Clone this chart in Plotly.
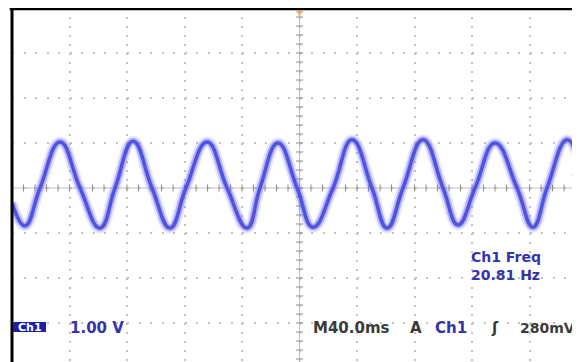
import plotly.graph_objects as go
import numpy as np

# ---- data (time in ms, voltage in V) ----
t_ms = [0.0, 9.0, 19.5, 33.4, 47.3, 61.2, 71.7, 84.2, 97.4, 109.9, 121.0,
        135.7, 149.6, 163.5, 172.5, 185.0, 198.3, 209.4, 223.3, 236.5, 250.4,
        260.9, 272.0, 285.9, 299.8, 310.3, 322.1, 336.0, 351.3, 362.4, 372.2,
        386.1, 395.1]
volts = [-0.33, -0.84, 0.0, 1.02, 0.0, -0.89, 0.0, 1.04, 0.0, -0.89, 0.0,
         1.02, 0.0, -0.89, 0.0, 1.00, 0.0, -0.87, 0.0, 1.07, 0.0,
         -0.89, 0.0, 1.07, 0.0, -0.82, 0.0, 1.00, 0.0, -0.87, 0.0,
         1.07, 0.55]

time_per_div = 40.0      # ms
volt_per_div = 1.0       # V
trigger_level = 0.28     # V
trigger_pos = 200.0      # ms
freq_lines = ["Ch1 Freq", "20.81 Hz"]

# page has an 8px body margin: figure covers page x 8..580, y 8..362
OFF = 8
W, H = 580 - OFF, 362 - OFF
L, T = 12 - OFF, 0
x_max = 395.1
y_min, y_max = -3.867, 4.0

def px(x):   # page x -> paper
    return (x - 12) / (580 - 12)

def py(y):   # page y -> paper
    return (362 - y) / (362 - 8)

fig = go.Figure()

tick_col = "#8c8c8c"
xt = np.arange(0, x_max, time_per_div / 5)
fig.add_trace(go.Scatter(
    x=xt, y=[0] * len(xt), mode="markers", hoverinfo="skip",
    marker=dict(symbol="line-ns-open", size=5, color=tick_col, line=dict(color=tick_col, width=1))))
yt = np.arange(-3.8, 4.0, volt_per_div / 5)
fig.add_trace(go.Scatter(
    x=[trigger_pos] * len(yt), y=yt, mode="markers", hoverinfo="skip",
    marker=dict(symbol="line-ew-open", size=5, color=tick_col, line=dict(color=tick_col, width=1))))

# waveform (fuzzy halo + core)
for col, w in [("rgba(130,130,245,0.18)", 11), ("rgba(110,110,240,0.45)", 7),
               ("rgb(82,82,224)", 3.5)]:
    fig.add_trace(go.Scatter(x=t_ms, y=volts, mode="lines", hoverinfo="skip",
                             line=dict(color=col, width=w, shape="spline", smoothing=1.3)))

# trigger level arrow and trigger position marker
fig.add_trace(go.Scatter(x=[392.3], y=[trigger_level], mode="markers", cliponaxis=False,
                         hoverinfo="skip",
                         marker=dict(symbol="triangle-left", size=9, color="#16166e")))
fig.add_trace(go.Scatter(x=[trigger_pos], y=[3.9], mode="markers", cliponaxis=False,
                         hoverinfo="skip",
                         marker=dict(symbol="triangle-down", size=7,
                                     color="rgba(245,165,80,0.85)")))

shapes = [
    dict(type="line", xref="x", yref="y", x0=0, x1=x_max, y0=0, y1=0,
         line=dict(color="#c0c0c0", width=1), layer="below"),
    dict(type="line", xref="x", yref="y", x0=trigger_pos, x1=trigger_pos, y0=y_min, y1=y_max,
         line=dict(color="#c0c0c0", width=1), layer="below"),
    dict(type="line", xref="paper", yref="paper", x0=0, x1=0, y0=0, y1=1,
         line=dict(color="black", width=3)),
    dict(type="line", xref="paper", yref="paper", x0=-0.004, x1=1, y0=0.998, y1=0.998,
         line=dict(color="black", width=3)),
    dict(type="rect", xref="paper", yref="paper", x0=px(13), x1=px(46), y0=py(332), y1=py(322),
         fillcolor="#1e1ea6", line=dict(width=0)),
]

FONT = "DejaVu Sans"
def ann(text, x, y, color, size=15, anchor="left"):
    return dict(text=text, xref="paper", yref="paper", x=px(x), y=py(y),
                xanchor=anchor, yanchor="middle", showarrow=False, align="left",
                font=dict(family=FONT, size=size, color=color, weight="bold"), borderpad=0)

blue = "#3333b0"
dark = "#3a3a3a"
annotations = [
    ann("Ch1", 29.5, 327.5, "white", size=11, anchor="center"),
    ann("1.00 V", 69, 328, blue),
    ann("M40.0ms", 312, 328, dark),
    ann("A", 409, 328, dark),
    ann("Ch1", 434, 328, blue),
    ann("ʃ", 490, 328, dark),
    ann("280mV", 519, 328, dark, size=14),
    ann("<br>".join(freq_lines), 470, 265.5, blue, size=14),
]

fig.update_layout(
    width=W, height=H, margin=dict(l=L, r=0, t=T, b=0),
    paper_bgcolor="white", plot_bgcolor="white", showlegend=False,
    xaxis=dict(range=[0, x_max], tickvals=list(np.arange(time_per_div, x_max, time_per_div)),
               showticklabels=False, ticks="", showgrid=True, gridcolor="#c2c2c2",
               gridwidth=1.5, griddash="2px,7px", zeroline=False, showline=False,
               fixedrange=True),
    yaxis=dict(range=[y_min, y_max], tickvals=list(np.arange(-3, 4, volt_per_div)),
               showticklabels=False, ticks="", showgrid=True, gridcolor="#c2c2c2",
               gridwidth=1.5, griddash="2px,9.5px", zeroline=False, showline=False,
               fixedrange=True),
    shapes=shapes, annotations=annotations,
)

fig.write_html("out.html")
